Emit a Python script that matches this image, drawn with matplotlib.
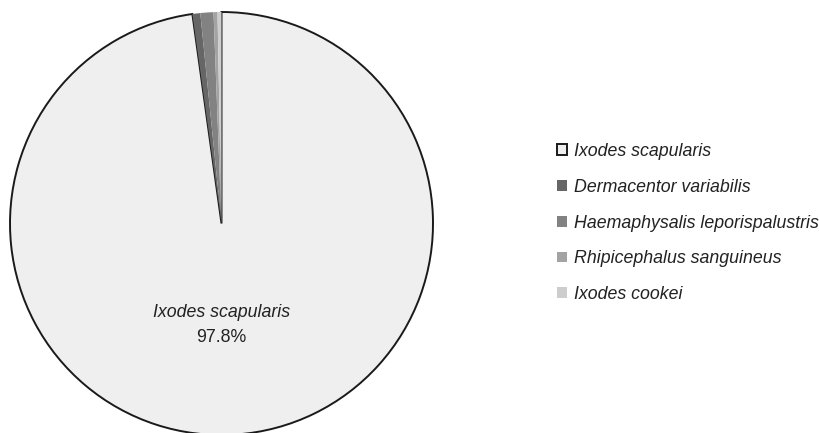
import matplotlib
matplotlib.use("Agg")
import matplotlib.pyplot as plt

# data
species = ["Ixodes scapularis", "Dermacentor variabilis",
           "Haemaphysalis leporispalustris", "Rhipicephalus sanguineus",
           "Ixodes cookei"]
shares = [97.8, 0.6, 1.0, 0.3, 0.3]
colors = ["#efefef", "#666666", "#828282", "#a3a3a3", "#cdcdcd"]

plt.rcParams["font.family"] = ["Liberation Sans", "DejaVu Sans"]

fig = plt.figure(figsize=(8.19, 4.33), dpi=100)
W, H = 819, 433
cx, cy, r = 221.5, 223.5, 211.5
ax = fig.add_axes([(cx - r) / W, (H - cy - r) / H, 2 * r / W, 2 * r / H])

wedges, _ = ax.pie(shares, colors=colors, startangle=90, counterclock=False,
                   radius=1.0)
for i, w in enumerate(wedges):
    if i == 0:
        w.set_edgecolor("#1a1a1a")
        w.set_linewidth(1.4)
    else:
        w.set_edgecolor("none")
ax.set_xlim(-1, 1)
ax.set_ylim(-1, 1)
ax.set_aspect("equal")
ax.axis("off")

ax.text(0, -0.423, species[0], ha="center", va="center",
        fontsize=12.8, style="italic", color="#222222")
ax.text(0, -0.541, f"{shares[0]}%", ha="center", va="center",
        fontsize=12.8, color="#222222")

leg = fig.legend(wedges, species, loc="center left",
                 bbox_to_anchor=(557 / W, (H - 223) / H),
                 frameon=False, borderpad=0, borderaxespad=0,
                 handlelength=0.56, handleheight=0.56, handletextpad=0.4,
                 labelspacing=1.06, prop={"size": 12.8, "style": "italic"})
for t in leg.get_texts():
    t.set_color("#222222")

fig.savefig("out.png", dpi=100)
